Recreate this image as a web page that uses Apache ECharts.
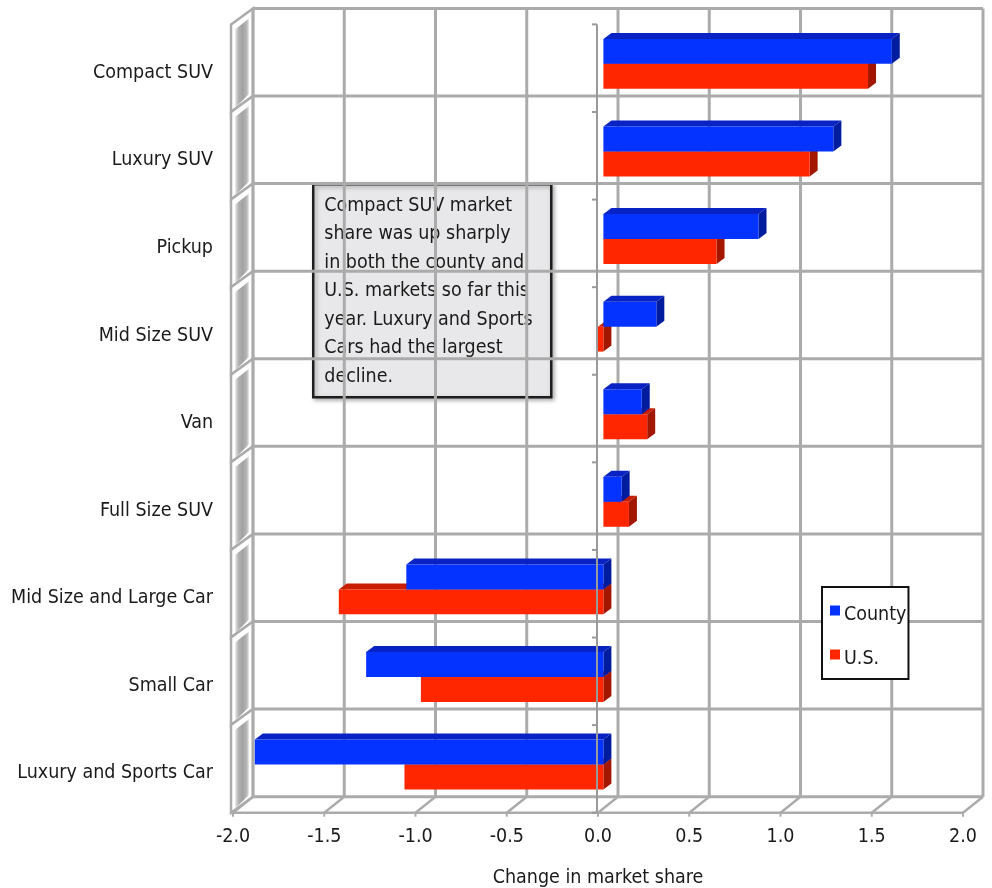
<!DOCTYPE html>
<html>
<head>
<meta charset="utf-8">
<script src="https://cdn.jsdelivr.net/npm/echarts@6/dist/echarts.min.js"></script>
<style>
  html, body { margin: 0; padding: 0; background: #ffffff; }
  #chart { width: 992px; height: 888px; }
</style>
</head>
<body>
<div id="chart"></div>
<script>
// Change in market share by vehicle segment, county vs. U.S.
const categories = [
  'Compact SUV', 'Luxury SUV', 'Pickup', 'Mid Size SUV', 'Van',
  'Full Size SUV', 'Mid Size and Large Car', 'Small Car', 'Luxury and Sports Car'
];
const countyValues = [1.58, 1.26, 0.85, 0.29, 0.21, 0.10, -1.08, -1.30, -1.91];
const usValues     = [1.45, 1.13, 0.62, -0.03, 0.24, 0.14, -1.45, -1.00, -1.09];
const xTicks = [-2, -1.5, -1, -0.5, 0, 0.5, 1, 1.5, 2];
const noteLines = [
  'Compact SUV market',
  'share was up sharply',
  'in both the county and',
  'U.S. markets so far this',
  'year. Luxury and Sports',
  'Cars had the largest',
  'decline.'
];

const FONT = "'DejaVu Sans Condensed', 'Liberation Sans Narrow', sans-serif";
const FONT_SIZE = 19.5;
const TEXT_COLOR = '#1a1a1a';
const GRID_COLOR = '#ababab';

// Oblique 3D look: offset of the back wall relative to the front plane.
const WALL = { dx: 20, dy: -16 };
// Bars sit a little behind the front plane and are extruded toward the back.
const BAR_FRONT = 0.27;
const BAR_EXTRUDE = { dx: 8, dy: -6 };
const BAR_FRAC = 0.285;

const PALETTE = {
  county: { front: '#0433ff', top: '#0822c4', side: '#001c9e' },
  us:     { front: '#ff2600', top: '#c81d00', side: '#a31700' }
};

function rowBounds(api) {
  const band = api.size([0, 1])[1];
  const n = categories.length;
  const top = api.coord([0, 0])[1] - band / 2;
  const bottom = api.coord([0, n - 1])[1] + band / 2;
  const left = api.coord([xTicks[0], 0])[0];
  const right = api.coord([xTicks[xTicks.length - 1], 0])[0];
  return { band, n, top, bottom, left, right };
}

function seg(x1, y1, x2, y2, w, c) {
  return {
    type: 'line', silent: true,
    shape: { x1, y1, x2, y2 },
    style: { stroke: c || GRID_COLOR, lineWidth: w || 3 }
  };
}

// Back wall, floor and left side wall.
function renderFrame(params, api) {
  const b = rowBounds(api);
  const dx = WALL.dx, dy = WALL.dy;
  const xl = b.left - 2;
  const kids = [];
  // left wall panels
  for (let k = 0; k < b.n; k++) {
    const y0 = b.top + k * b.band, y1 = y0 + b.band;
    kids.push({
      type: 'polygon', silent: true,
      shape: { points: [[xl, y0], [b.left + dx, y0 + dy], [b.left + dx, y1 + dy], [xl, y1]] },
      style: { fill: '#ffffff', stroke: GRID_COLOR, lineWidth: 2.5 }
    });
    kids.push({
      type: 'polygon', silent: true,
      shape: { points: [
        [xl + 4, y0 + 5], [b.left + dx - 4, y0 + dy + 10],
        [b.left + dx - 4, y1 + dy - 2], [xl + 4, y1 - 4]
      ] },
      style: {
        fill: {
          type: 'linear', x: 0, y: 0, x2: 1, y2: 0,
          colorStops: [
            { offset: 0, color: '#eeeeee' },
            { offset: 0.25, color: '#b2b2b2' },
            { offset: 0.55, color: '#a2a2a2' },
            { offset: 0.85, color: '#b8b8b8' },
            { offset: 1, color: '#ececec' }
          ]
        }
      }
    });
  }
  // back wall verticals
  xTicks.forEach(function (t) {
    const x = api.coord([t, 0])[0] + dx;
    kids.push(seg(x, b.top + dy, x, b.bottom + dy));
  });
  // back wall horizontals
  for (let k = 0; k <= b.n; k++) {
    const y = b.top + k * b.band + dy;
    kids.push(seg(b.left + dx, y, b.right + dx, y));
  }
  // floor
  kids.push(seg(xl, b.bottom, b.right, b.bottom, 2.5));
  xTicks.forEach(function (t) {
    const x = api.coord([t, 0])[0];
    kids.push(seg(x, b.bottom, x + dx, b.bottom + dy, 2.5));
    kids.push(seg(x, b.bottom, x, b.bottom + 4, 2));
  });
  return { type: 'group', children: kids };
}

// Front value-axis line at zero with category ticks.
function renderZeroAxis(params, api) {
  const b = rowBounds(api);
  const x = api.coord([0, 0])[0] - 1;
  const kids = [seg(x, b.top, x, b.bottom, 2, '#9a9a9a')];
  for (let k = 0; k <= b.n; k++) {
    const y = b.top + k * b.band;
    kids.push(seg(x - 5, y, x, y, 2, '#9a9a9a'));
  }
  return { type: 'group', children: kids };
}

function makeBarRenderer(slot, colors) {
  return function (params, api) {
    const v = api.value(0), c = api.value(1);
    const p0 = api.coord([0, c]);
    const p1 = api.coord([v, c]);
    const band = api.size([0, 1])[1];
    const h = band * BAR_FRAC;
    const sx = WALL.dx * BAR_FRONT, sy = WALL.dy * BAR_FRONT;
    const yT = p0[1] + sy + (slot === 0 ? -h : 0);
    const yB = yT + h;
    const xa = Math.min(p0[0], p1[0]) + sx;
    const xb = Math.max(p0[0], p1[0]) + sx;
    const ex = BAR_EXTRUDE.dx, ey = BAR_EXTRUDE.dy;
    return {
      type: 'group',
      children: [
        { type: 'polygon', shape: { points: [[xa, yT], [xb, yT], [xb + ex, yT + ey], [xa + ex, yT + ey]] },
          style: { fill: colors.top } },
        { type: 'polygon', shape: { points: [[xb, yT], [xb + ex, yT + ey], [xb + ex, yB + ey], [xb, yB]] },
          style: { fill: colors.side } },
        { type: 'rect', shape: { x: xa, y: yT, width: xb - xa, height: h },
          style: { fill: colors.front } }
      ]
    };
  };
}

const chart = echarts.init(document.getElementById('chart'), null, { renderer: 'canvas' });

const option = {
  backgroundColor: '#ffffff',
  animation: false,
  textStyle: { fontFamily: FONT },
  grid: { left: 233, right: 29, top: 24.4, bottom: 75.3, outerBoundsMode: 'none', containLabel: false },
  xAxis: {
    type: 'value', min: -2, max: 2, interval: 0.5,
    axisLine: { show: false }, axisTick: { show: false }, splitLine: { show: false },
    axisLabel: {
      fontFamily: FONT, fontSize: FONT_SIZE, color: TEXT_COLOR, margin: 14,
      formatter: function (v) { return v.toFixed(1); }
    },
    name: 'Change in market share', nameLocation: 'middle', nameGap: 55,
    nameTextStyle: { fontFamily: FONT, fontSize: FONT_SIZE, color: TEXT_COLOR }
  },
  yAxis: {
    type: 'category', inverse: true, data: categories,
    axisLine: { show: false }, axisTick: { show: false }, splitLine: { show: false },
    axisLabel: {
      color: TEXT_COLOR, margin: 20,
      formatter: function (v) { return '{c|' + v + '}'; },
      rich: { c: { fontFamily: FONT, fontSize: FONT_SIZE, color: TEXT_COLOR, padding: [9, 0, 0, 0] } }
    }
  },
  legend: {
    data: ['County', 'U.S.'],
    orient: 'vertical', left: 822, top: 587,
    icon: 'rect', itemWidth: 10, itemHeight: 10, itemGap: 24,
    padding: [18, 2, 10, 8],
    backgroundColor: '#ffffff', borderColor: '#111111', borderWidth: 2,
    formatter: function (name) { return '{n|' + name + '}'; },
    textStyle: {
      fontFamily: FONT, fontSize: FONT_SIZE, color: TEXT_COLOR,
      rich: { n: { fontFamily: FONT, fontSize: FONT_SIZE, color: TEXT_COLOR, padding: [9, 0, 0, -1] } }
    }
  },
  series: [
    { name: 'frame', type: 'custom', z: 1, silent: true, data: [[0, 0]],
      encode: { x: 0, y: 1 }, renderItem: renderFrame, clip: false },
    { name: 'U.S.', type: 'custom', z: 2, itemStyle: { color: PALETTE.us.front },
      data: usValues.map(function (v, i) { return [v, i]; }),
      encode: { x: 0, y: 1 }, renderItem: makeBarRenderer(1, PALETTE.us), clip: false },
    { name: 'County', type: 'custom', z: 3, itemStyle: { color: PALETTE.county.front },
      data: countyValues.map(function (v, i) { return [v, i]; }),
      encode: { x: 0, y: 1 }, renderItem: makeBarRenderer(0, PALETTE.county), clip: false },
    { name: 'zeroAxis', type: 'custom', z: 4, silent: true, data: [[0, 0]],
      encode: { x: 0, y: 1 }, renderItem: renderZeroAxis, clip: false }
  ],
  graphic: [
    {
      type: 'group', left: 312, top: 183, z: 10,
      children: [
        { type: 'rect', shape: { x: 0, y: 0, width: 238, height: 213 },
          style: { fill: '#e8e8ea', stroke: '#1e1e1e', lineWidth: 2.5,
                   shadowBlur: 4, shadowOffsetX: 2, shadowOffsetY: 2, shadowColor: 'rgba(0,0,0,0.3)' } },
        { type: 'text', x: 11, y: 7,
          style: { text: noteLines.join('\n'), fontFamily: FONT, fontSize: FONT_SIZE,
                   lineHeight: 28.5, fill: TEXT_COLOR, verticalAlign: 'top' } }
      ]
    }
  ]
};

chart.setOption(option);
</script>
</body>
</html>
